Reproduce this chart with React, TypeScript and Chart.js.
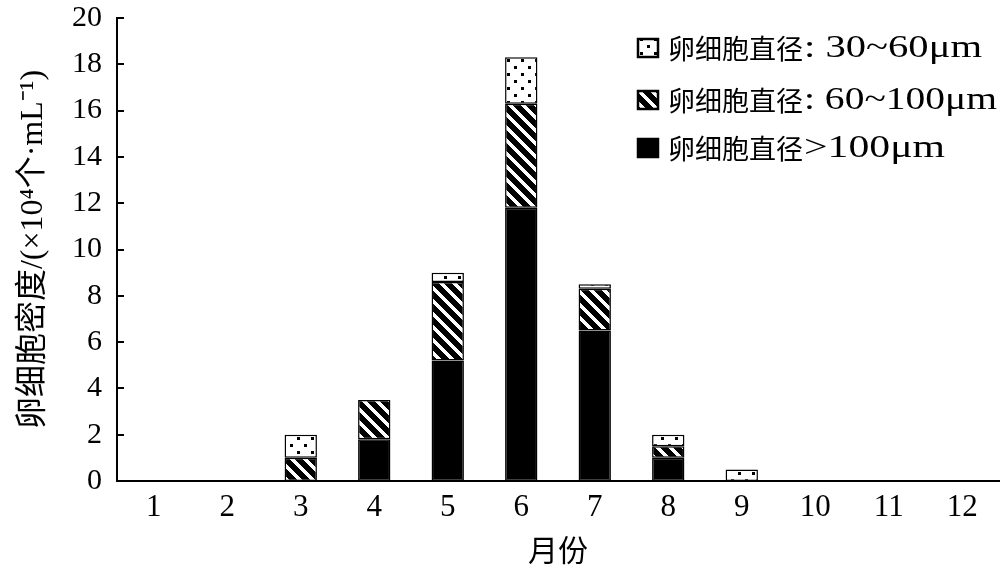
import React, { useEffect, useRef } from 'react';
import { Chart, registerables } from 'chart.js';
Chart.register(...registerables);

const months = ['1', '2', '3', '4', '5', '6', '7', '8', '9', '10', '11', '12'];
const over100 = [0, 0, 0, 1.8, 5.2, 11.8, 6.5, 1.0, 0, 0, 0, 0];
const d60to100 = [0, 0, 1.0, 1.7, 3.4, 4.5, 1.8, 0.5, 0, 0, 0, 0];
const d30to60 = [0, 0, 1.0, 0, 0.4, 2.0, 0.2, 0.5, 0.5, 0, 0, 0];
const yTicks = [0, 2, 4, 6, 8, 10, 12, 14, 16, 18, 20];
const legendLabels = ['卵细胞直径: 30~60μm', '卵细胞直径: 60~100μm', '卵细胞直径>100μm'];
const yTitle = '卵细胞密度/(×10⁴个·mL⁻¹)';
const xTitle = '月份';

const FONT = '"Liberation Serif", "Noto Sans CJK SC", serif';
const CJK = '"Noto Sans CJK SC", sans-serif';

function makeDots(): CanvasPattern | string {
  const c = document.createElement('canvas');
  c.width = 14; c.height = 14;
  const g = c.getContext('2d');
  if (!g) return '#fff';
  g.fillStyle = '#fff'; g.fillRect(0, 0, 14, 14);
  g.fillStyle = '#000';
  g.fillRect(3, 3, 3, 3);
  g.fillRect(10, 10, 3, 3);
  return g.createPattern(c, 'repeat') || '#fff';
}

function makeStripes(): CanvasPattern | string {
  const n = 13;
  const c = document.createElement('canvas');
  c.width = n; c.height = n;
  const g = c.getContext('2d');
  if (!g) return '#000';
  g.fillStyle = '#000'; g.fillRect(0, 0, n, n);
  g.fillStyle = '#fff';
  for (let i = 0; i < n; i += 1) {
    for (const dx of [-n, 0, n]) {
      g.fillRect(i + dx, i, 5, 1);
    }
  }
  return g.createPattern(c, 'repeat') || '#000';
}

const nz = (a: number[]) => a.map((v) => (v === 0 ? null : v));

export default function App() {
  const ref = useRef<HTMLCanvasElement>(null);
  useEffect(() => {
    if (!ref.current) return;
    const dots = makeDots();
    const stripes = makeStripes();
    const fills = [dots, stripes, '#000'];

    const extras = {
      id: 'extras',
      afterDraw(chart: any) {
        const ctx = chart.ctx;
        const y = chart.scales.y;
        const area = chart.chartArea;
        ctx.save();
        ctx.strokeStyle = '#000';
        ctx.lineWidth = 2;
        yTicks.forEach((v) => {
          const py = Math.round(y.getPixelForValue(v));
          ctx.beginPath();
          ctx.moveTo(area.left, py);
          ctx.lineTo(area.left + 7, py);
          ctx.stroke();
        });
        // legend
        ctx.textBaseline = 'middle';
        const rows = [48, 100, 148];
        const ends = [982, 997, 945];
        legendLabels.forEach((t, i) => {
          const bx = 637, by = rows[i] - 10;
          ctx.fillStyle = fills[i];
          ctx.fillRect(bx, by, 22, 20);
          ctx.strokeStyle = '#000';
          ctx.lineWidth = 2.5;
          ctx.strokeRect(bx + 1, by + 1, 20, 18);
          ctx.fillStyle = '#000';
          const m = t.match(/^([\u4e00-\u9fff]+)(.*)$/);
          const head = m ? m[1] : '';
          const tail = m ? m[2] : t;
          ctx.font = '27px ' + CJK;
          ctx.fillText(head, 668, rows[i] + 1);
          const start = 668 + ctx.measureText(head).width + 1;
          ctx.font = '31px "Liberation Serif", serif';
          const w = ctx.measureText(tail).width;
          const sx = (ends[i] - start) / w;
          ctx.save();
          ctx.translate(start, rows[i] + 1);
          ctx.scale(sx, 1);
          ctx.fillText(tail, 0, 0);
          ctx.restore();
        });
        ctx.restore();
      },
    };

    const mk = (label: string, data: number[], fill: any) => ({
      label,
      data: nz(data),
      backgroundColor: fill,
      borderColor: '#000',
      borderWidth: 1.5,
      borderSkipped: false,
      barPercentage: 0.44,
      categoryPercentage: 1,
    });

    const chart = new Chart(ref.current, {
      type: 'bar',
      data: {
        labels: months,
        datasets: [
          mk(legendLabels[2], over100, '#000'),
          mk(legendLabels[1], d60to100, stripes),
          mk(legendLabels[0], d30to60, dots),
        ],
      },
      options: {
        animation: false,
        responsive: false,
        devicePixelRatio: 1,
        layout: { autoPadding: false, padding: { top: 18, right: 1, left: 0, bottom: 0 } },
        plugins: { legend: { display: false }, tooltip: { enabled: false } },
        scales: {
          x: {
            stacked: true,
            grid: { display: false, drawTicks: false },
            border: { display: true, color: '#000', width: 2 },
            ticks: { color: '#000', font: { family: FONT, size: 31 }, padding: 8, maxRotation: 0, autoSkip: false },
            title: { display: true, text: xTitle, color: '#000', font: { family: FONT, size: 30 }, padding: { top: 0, bottom: 3 } },
            afterFit: (s: any) => { s.height = 93; s.paddingLeft = 0; s.paddingRight = 0; },
          },
          y: {
            stacked: true,
            min: 0,
            max: 20,
            afterBuildTicks: (s: any) => { s.ticks = yTicks.map((v) => ({ value: v })); },
            grid: { display: false, drawTicks: false },
            border: { display: true, color: '#000', width: 2 },
            ticks: { color: '#000', font: { family: FONT, size: 30 }, padding: 15 },
            title: { display: true, text: yTitle, color: '#000', font: { family: FONT, size: 32 }, padding: { top: 14, bottom: 0 } },
            afterFit: (s: any) => { s.width = 117; s.paddingTop = 0; s.paddingBottom = 0; },
          },
        },
      },
      plugins: [extras],
    } as any);
    return () => chart.destroy();
  }, []);
  return (
    <div style={{ position: 'absolute', left: 0, top: 0, width: 1000, height: 574, background: '#fff' }}>
      <canvas ref={ref} width={1000} height={574} />
    </div>
  );
}
